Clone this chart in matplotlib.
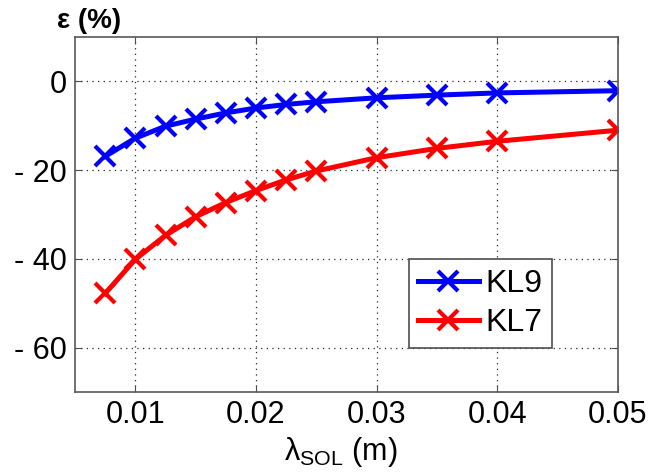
import matplotlib
matplotlib.use('Agg')
import matplotlib.pyplot as plt

# lambda_SOL (m)
lam = [0.0075, 0.01, 0.0125, 0.015, 0.0175, 0.02, 0.0225, 0.025, 0.03, 0.035, 0.04, 0.05]
# erreur relative (%)
eps_kl9 = [-16.9, -12.8, -10.1, -8.5, -7.1, -6.0, -5.2, -4.6, -3.7, -3.1, -2.6, -2.1]
eps_kl7 = [-47.8, -40.1, -34.7, -30.5, -27.3, -24.6, -22.2, -20.2, -17.2, -15.1, -13.5, -11.0]

xticks = [0.01, 0.02, 0.03, 0.04, 0.05]
xticklabels = ['0.01', '0.02', '0.03', '0.04', '0.05']
yticks = [-60, -40, -20, 0]
yticklabels = ['- 60', '- 40', '- 20', '0']

plt.rcParams['font.family'] = ['Liberation Sans', 'DejaVu Sans']
plt.rcParams['mathtext.fontset'] = 'custom'
plt.rcParams['mathtext.rm'] = 'Liberation Sans'
plt.rcParams['mathtext.it'] = 'Liberation Sans:italic'

fig = plt.figure(figsize=(6.5, 4.75), dpi=100)
ax = fig.add_axes([75/650, 83/475, 543/650, 355/475])

kw = dict(linewidth=3.6, marker='x', markersize=15, markeredgewidth=3)
ax.plot(lam, eps_kl9, color='#0000ff', label='KL9', **kw)
ax.plot(lam, eps_kl7, color='#ff0000', label='KL7', **kw)

ax.set_xlim(0.005, 0.05)
ax.set_ylim(-70, 10)
ax.set_xticks(xticks)
ax.set_xticklabels(xticklabels)
ax.set_yticks(yticks)
ax.set_yticklabels(yticklabels)
ax.tick_params(direction='in', top=True, right=True, length=5, width=0.8,
               color='0.3', labelsize=22, pad=6)
for s in ax.spines.values():
    s.set_color('0.35')
    s.set_linewidth(1.2)
ax.grid(True, color='0.15', linestyle=(0, (1, 3.5)), linewidth=0.9)

ax.set_xlabel(r'λ$_{\mathrm{SOL}}$ (m)', fontsize=22, labelpad=2)
ax.xaxis.set_label_coords(0.49, -0.12)
fig.text(89/650, 1 - 21/475, 'ε (%)', fontsize=20, fontweight='bold',
         ha='center', va='center')

leg = ax.legend(loc='lower right', bbox_to_anchor=(0.878, 0.124), fontsize=23,
                fancybox=False, framealpha=1, edgecolor='0.3',
                handlelength=1.9, handletextpad=0.2, borderpad=0.3,
                labelspacing=0.3, borderaxespad=0)
leg.get_frame().set_linewidth(1.2)

fig.savefig('out.png', dpi=100)
